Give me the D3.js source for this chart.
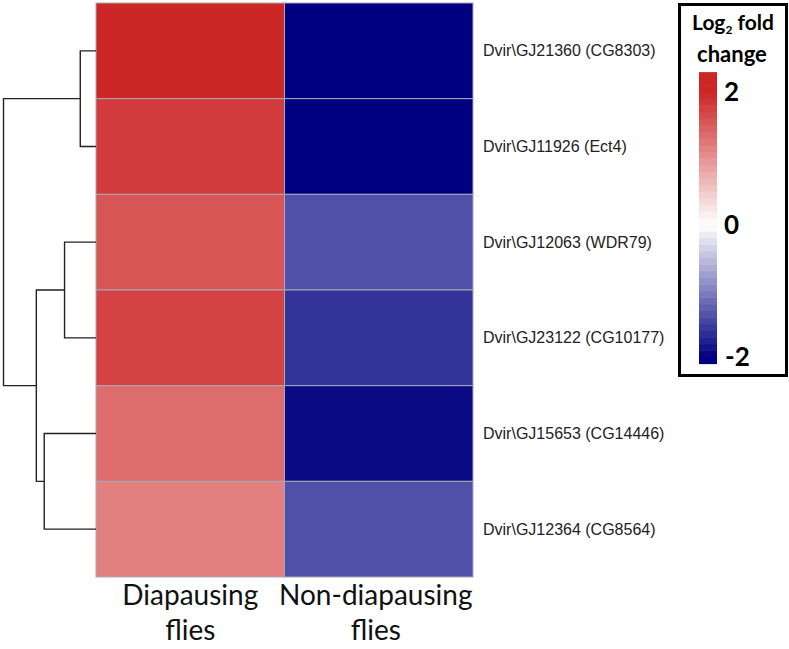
<!DOCTYPE html>
<html>
<head>
<meta charset="utf-8">
<script src="https://cdn.jsdelivr.net/npm/d3@7"></script>
<style>
  body { margin: 0; background: #fff; }
  svg { display: block; }
</style>
</head>
<body>
<div id="chart"></div>
<script>
// genes (rows, top to bottom) and the two sample groups (columns)
const genes = [
  "Dvir\\GJ21360 (CG8303)",
  "Dvir\\GJ11926 (Ect4)",
  "Dvir\\GJ12063 (WDR79)",
  "Dvir\\GJ23122 (CG10177)",
  "Dvir\\GJ15653 (CG14446)",
  "Dvir\\GJ12364 (CG8564)"
]
const groups = [["Diapausing", "flies"], ["Non-diapausing", "flies"]]

// log2 fold change per gene
const diapausing    = [2.0, 1.81, 1.57, 1.73, 1.35, 1.17]
const nonDiapausing = [-2.0, -2.0, -1.37, -1.6, -1.92, -1.37]

// row clustering, hclust style: negative = leaf index (1-based), positive = earlier merge
const merges = [[-1, -2], [-3, -4], [-5, -6], [2, 3], [1, 4]]
const mergeHeights = [0.17, 0.34, 0.56, 0.645, 1.0]

const legendTicks = [2, 0, -2]

const W = 789, H = 649
const heat = { left: 96, right: 473, top: 3, bottom: 577 }

const svg = d3.select("#chart").append("svg")
  .attr("width", W).attr("height", H)

const color = d3.scaleLinear()
  .domain([-2, 0, 2])
  .range(["#000080", "#ffffff", "#CD2626"])
  .clamp(true)

const x = d3.scaleBand()
  .domain(d3.range(groups.length))
  .range([heat.left, heat.right])

const y = d3.scaleBand()
  .domain(d3.range(genes.length))
  .range([heat.top, heat.bottom])

const cells = []
genes.forEach((g, i) => {
  cells.push({ row: i, col: 0, v: diapausing[i] })
  cells.push({ row: i, col: 1, v: nonDiapausing[i] })
})

svg.append("g")
  .selectAll("rect")
  .data(cells)
  .enter()
  .append("rect")
  .attr("x", d => x(d.col))
  .attr("y", d => y(d.row))
  .attr("width", x.bandwidth())
  .attr("height", y.bandwidth())
  .attr("fill", d => color(d.v))
  .attr("stroke", "#a8a8b8")
  .attr("stroke-width", 1)

// row labels
svg.append("g")
  .selectAll("text")
  .data(genes)
  .enter()
  .append("text")
  .attr("x", heat.right + 10)
  .attr("y", (d, i) => y(i) + y.bandwidth() / 2)
  .attr("dy", "0.35em")
  .style("font-family", "'Liberation Sans', Arial, sans-serif")
  .style("font-size", "16px")
  .style("fill", "#222")
  .text(d => d)

// column labels
const colX = i => x(i) + x.bandwidth() / 2 - (i === 1 ? 3 : 0)
const colLab = svg.append("g")
  .selectAll("text")
  .data(groups)
  .enter()
  .append("text")
  .attr("x", (d, i) => colX(i))
  .attr("y", 605)
  .style("font-family", "Lato, 'Open Sans', sans-serif")
  .style("font-size", "28px")
  .style("text-anchor", "middle")
  .style("fill", "#111")
colLab.append("tspan").text(d => d[0])
colLab.append("tspan")
  .attr("x", (d, i) => colX(i))
  .attr("dy", 35)
  .text(d => d[1])

// dendrogram
const hx = d3.scaleLinear().domain([0, 1]).range([heat.left, 3.5])
const nodes = []
function pos(ref) {
  if (ref < 0) return { x: heat.left, y: y(-ref - 1) + y.bandwidth() / 2 }
  return nodes[ref - 1]
}
merges.forEach((m, k) => {
  const a = pos(m[0]), b = pos(m[1])
  nodes.push({ x: hx(mergeHeights[k]), y: (a.y + b.y) / 2, a: a, b: b })
})
const dendro = svg.append("g")
  .attr("fill", "none")
  .attr("stroke", "#222")
  .attr("stroke-width", 1.4)
dendro.selectAll("path")
  .data(nodes)
  .enter()
  .append("path")
  .attr("d", n => `M${n.a.x},${n.a.y}H${n.x}V${n.b.y}H${n.b.x}`)

// legend
const lg = svg.append("g")
lg.append("rect")
  .attr("x", 679.5).attr("y", 4.5)
  .attr("width", 107).attr("height", 371)
  .attr("fill", "#fff")
  .attr("stroke", "#000")
  .attr("stroke-width", 3)

const title = lg.append("text")
  .attr("x", 733)
  .attr("y", 30)
  .style("font-family", "Lato, 'Open Sans', sans-serif")
  .style("font-weight", "bold")
  .style("font-size", "21px")
  .style("text-anchor", "middle")
title.append("tspan").text("Log")
title.append("tspan").attr("dy", 4).style("font-size", "12px").text("2")
title.append("tspan").attr("dy", -4).text(" fold")
lg.append("text")
  .attr("x", 732)
  .attr("y", 62)
  .style("font-family", "Lato, 'Open Sans', sans-serif")
  .style("font-weight", "bold")
  .style("font-size", "22px")
  .style("text-anchor", "middle")
  .text("change")

const ly = d3.scaleLinear().domain([-2, 2]).range([357, 92])
const steps = d3.range(-2.1, 2.28, 0.1)
lg.selectAll(".step")
  .data(steps)
  .enter()
  .append("rect")
  .attr("class", "step")
  .attr("x", 699)
  .attr("width", 18)
  .attr("y", d => ly(d + 0.1))
  .attr("height", d => ly(d) - ly(d + 0.1) + 0.5)
  .attr("fill", d => color(d + 0.05))

lg.selectAll(".tick")
  .data(legendTicks)
  .enter()
  .append("text")
  .attr("class", "tick")
  .attr("x", d => d < 0 ? 725 : 724)
  .attr("y", d => ly(d))
  .attr("dy", "0.36em")
  .style("font-family", "Lato, 'Open Sans', sans-serif")
  .style("font-weight", "bold")
  .style("font-size", "26px")
  .text(d => d < 0 ? "-" + Math.abs(d) : d)
</script>
</body>
</html>
